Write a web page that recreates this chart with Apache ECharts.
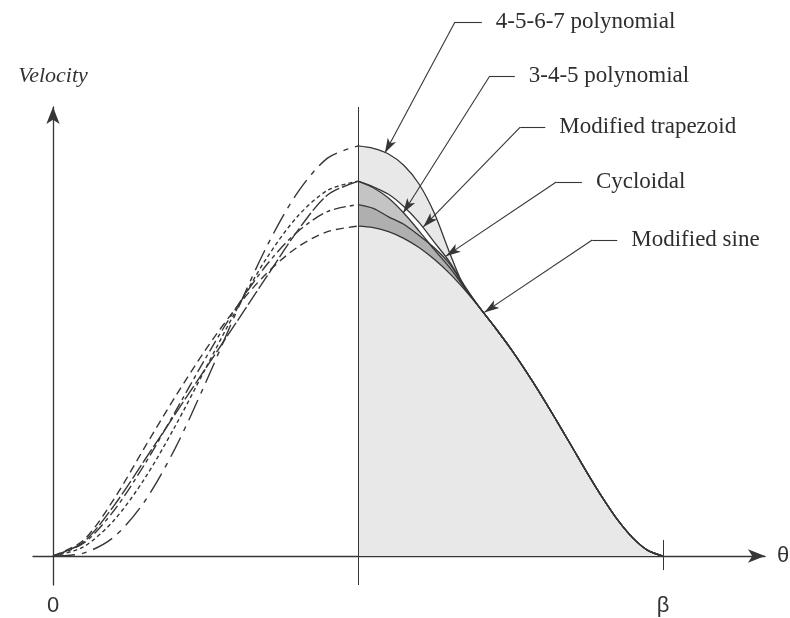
<!DOCTYPE html>
<html>
<head>
<meta charset="utf-8">
<script src="https://cdn.jsdelivr.net/npm/echarts@6/dist/echarts.min.js"></script>
<style>
  html, body { margin: 0; padding: 0; background: #fff; }
  #chart { width: 790px; height: 618px; }
</style>
</head>
<body>
<div id="chart"></div>
<script>
// cam angle as a fraction of beta: rising half and falling half
const thetaRise = [0, 0.05, 0.1, 0.15, 0.2, 0.25, 0.3, 0.35, 0.4, 0.45, 0.5];
const thetaFall = [0.5, 0.525, 0.55, 0.575, 0.6, 0.625, 0.65, 0.675, 0.7, 0.725, 0.75,
                   0.775, 0.8, 0.825, 0.85, 0.875, 0.9, 0.925, 0.95, 0.975, 1];

// velocity (h / beta), rising half (dashed)
const poly4567Rise  = [0, 0.015, 0.102, 0.290, 0.573, 0.923, 1.297, 1.649, 1.935, 2.123, 2.188];
const cycloidalRise = [0, 0.049, 0.191, 0.412, 0.691, 1.000, 1.309, 1.588, 1.809, 1.951, 2.000];
const modTrapRise   = [0, 0.074, 0.269, 0.511, 0.756, 1.000, 1.244, 1.489, 1.731, 1.926, 2.000];
const poly345Rise   = [0, 0.068, 0.243, 0.488, 0.768, 1.055, 1.323, 1.553, 1.728, 1.838, 1.875];
const modSineRise   = [0, 0.084, 0.304, 0.578, 0.848, 1.100, 1.323, 1.508, 1.646, 1.731, 1.760];

// velocity, falling half (solid, shaded) - the curves merge into one tail
const poly4567Fall  = [2.188, 2.175, 2.145, 2.085, 1.985, 1.830, 1.620, 1.430, 1.323, 1.218, 1.108,
                       0.988, 0.860, 0.725, 0.587, 0.448, 0.315, 0.195, 0.098, 0.030, 0];
const cycloidalFall = [2.000, 1.970, 1.930, 1.865, 1.780, 1.675, 1.570, 1.440, 1.323, 1.218, 1.108,
                       0.988, 0.860, 0.725, 0.587, 0.448, 0.315, 0.195, 0.098, 0.030, 0];
const modTrapFall   = [2.000, 1.965, 1.910, 1.830, 1.735, 1.635, 1.540, 1.430, 1.323, 1.218, 1.108,
                       0.988, 0.860, 0.725, 0.587, 0.448, 0.315, 0.195, 0.098, 0.030, 0];
const poly345Fall   = [1.875, 1.855, 1.810, 1.770, 1.710, 1.645, 1.560, 1.435, 1.323, 1.218, 1.108,
                       0.988, 0.860, 0.725, 0.587, 0.448, 0.315, 0.195, 0.098, 0.030, 0];
const modSineFall   = [1.760, 1.752, 1.731, 1.695, 1.646, 1.583, 1.508, 1.420, 1.323, 1.218, 1.108,
                       0.988, 0.860, 0.725, 0.587, 0.448, 0.315, 0.195, 0.098, 0.030, 0];

const xTickLabels = { 0: '0', 1: 'β' };

// callouts: label, elbow of the leader, end of its short level stroke, arrow tip
const callouts = [
  { label: '4-5-6-7 polynomial', elbow: [0.659, 2.850], end: [0.703, 2.850], tip: [0.544, 2.150] },
  { label: '3-4-5 polynomial',   elbow: [0.716, 2.561], end: [0.757, 2.561], tip: [0.574, 1.830] },
  { label: 'Modified trapezoid', elbow: [0.766, 2.289], end: [0.807, 2.289], tip: [0.607, 1.756] },
  { label: 'Cycloidal',          elbow: [0.825, 1.996], end: [0.867, 1.996], tip: [0.644, 1.600] },
  { label: 'Modified sine',      elbow: [0.884, 1.686], end: [0.925, 1.686], tip: [0.707, 1.300] },
];

const INK = '#363636';
const X_MIN = -0.0328, X_MAX = 1.1672;

function pts(xs, vals) {
  return xs.map((t, i) => [t, vals[i]]);
}

const curves = [
  { rise: poly4567Rise,  fall: poly4567Fall,  dash: [22, 7, 5, 7], fill: '#e8e8e8' },
  { rise: cycloidalRise, fall: cycloidalFall, dash: [4, 3],        fill: '#ffffff' },
  { rise: modTrapRise,   fall: modTrapFall,   dash: [16, 3],       fill: '#c4c4c4' },
  { rise: poly345Rise,   fall: poly345Fall,   dash: [12, 4, 4, 4], fill: '#afafaf' },
  { rise: modSineRise,   fall: modSineFall,   dash: [8, 5],        fill: '#e8e8e8' },
];

const series = [];
// shaded bands on the falling half
curves.forEach(c => {
  series.push({
    type: 'line', smooth: 0.3, showSymbol: false, silent: true, z: 2,
    data: pts(thetaFall, c.fall),
    lineStyle: { width: 0 },
    areaStyle: { color: c.fill, opacity: 1 },
  });
});
// solid outlines on the falling half, dashed styles on the rising half
curves.forEach(c => {
  series.push({
    type: 'line', smooth: 0.3, showSymbol: false, silent: true, z: 3,
    data: pts(thetaFall, c.fall),
    lineStyle: { color: INK, width: 1.3 },
  });
  series.push({
    type: 'line', smooth: 0.3, showSymbol: false, silent: true, z: 3,
    data: pts(thetaRise, c.rise),
    lineStyle: { color: INK, width: 1.4, type: c.dash },
  });
});

// mid line and beta tick
series.push({
  type: 'line', data: [], silent: true, z: 4,
  markLine: {
    silent: true, symbol: 'none', animation: false,
    lineStyle: { color: INK, width: 1, type: 'solid' },
    label: { show: false },
    data: [
      { xAxis: 0.5 },
      [{ coord: [1, 0.085] }, { coord: [1, -0.075] }],
    ],
  },
});

// callout leaders on an overlay grid with the same scale, reaching the top edge
const leaderData = [];
callouts.forEach(c => {
  leaderData.push([
    { coord: c.elbow, symbol: 'none' },
    { coord: c.end, symbol: 'none', label: { show: true, formatter: c.label } },
  ]);
  leaderData.push([
    { coord: c.elbow, symbol: 'none' },
    { coord: c.tip, symbol: 'arrow', symbolSize: [7, 15] },
  ]);
});
series.push({
  type: 'line', data: [], silent: true, z: 5, xAxisIndex: 1, yAxisIndex: 1,
  markLine: {
    silent: true, symbol: 'none', animation: false,
    lineStyle: { color: INK, width: 1.1, type: 'solid' },
    itemStyle: { color: INK },
    label: {
      show: false, position: 'end', distance: 14,
      fontFamily: 'Liberation Serif', fontSize: 23, color: '#2e2e2e',
    },
    data: leaderData,
  },
});

const chart = echarts.init(document.getElementById('chart'));
chart.setOption({
  animation: false,
  backgroundColor: '#ffffff',
  grid: [
    { left: 33, right: 25, top: 107, bottom: 33, outerBoundsMode: 'none', containLabel: false },
    { left: 33, right: 25, top: 0, bottom: 33, outerBoundsMode: 'none', containLabel: false },
  ],
  xAxis: [
    {
      type: 'value', min: X_MIN, max: X_MAX, gridIndex: 0,
      name: 'θ', nameLocation: 'end', nameGap: 12,
      nameTextStyle: { fontFamily: 'Liberation Sans', fontSize: 22, color: '#333' },
      axisLine: { onZero: true, symbol: ['none', 'arrow'], symbolSize: [10, 17],
                  lineStyle: { color: INK, width: 1.3 } },
      axisTick: { show: false },
      splitLine: { show: false },
      axisLabel: {
        customValues: [0, 1], margin: 10,
        fontFamily: 'Liberation Sans', fontSize: 22, color: '#333',
        formatter: v => xTickLabels[v] || '',
      },
    },
    { type: 'value', min: X_MIN, max: X_MAX, gridIndex: 1, show: false },
  ],
  yAxis: [
    {
      type: 'value', min: -0.1547, max: 2.3959, gridIndex: 0,
      name: 'Velocity', nameLocation: 'end', nameGap: 20,
      nameTextStyle: { fontFamily: 'Liberation Serif', fontStyle: 'italic', fontSize: 22, color: '#333' },
      axisLine: { onZero: true, symbol: ['none', 'arrow'], symbolSize: [10, 17],
                  lineStyle: { color: INK, width: 1.3 } },
      axisTick: { show: false },
      axisLabel: { show: false },
      splitLine: { show: false },
    },
    { type: 'value', min: -0.1547, max: 2.9669, gridIndex: 1, show: false },
  ],
  series: series,
});
</script>
</body>
</html>
